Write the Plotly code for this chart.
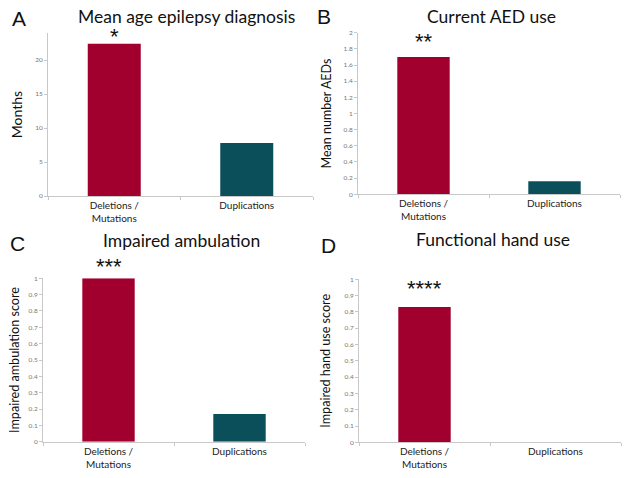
import plotly.graph_objects as go

W, H = 629, 478

categories = ["Deletions /<br>Mutations", "Duplications"]
panel_letters = ["A", "B", "C", "D"]
panel_titles = ["Mean age epilepsy diagnosis", "Current AED use",
                "Impaired ambulation", "Functional hand use"]
y_titles = ["Months", "Mean number AEDs", "Impaired ambulation score",
            "Impaired hand use score"]
age_months = [22.4, 7.8]
aed_count = [1.70, 0.16]
ambulation_score = [1.0, 0.17]
hand_use_score = [0.83, 0.0]
stars = ["*", "**", "***", "****"]
values = [age_months, aed_count, ambulation_score, hand_use_score]
y_ranges = [[0, 24], [0, 2], [0, 1], [0, 1]]
y_dticks = [5, 0.2, 0.1, 0.1]

bar_colors = ["#A1002F", "#0B4F5A"]

# plot area boxes in pixels: left, right, top, bottom
boxes = [(48, 313, 33, 196), (358, 620, 32.7, 194.3),
         (43, 305, 278.3, 441.7), (359, 621, 279.3, 442.3)]
letter_pos = [(19, 18), (324, 17), (17, 243), (328, 245)]
title_pos = [(186, 17), (491, 17), (181, 240), (493, 239)]
star_shift = [7, 15, 12, 19]
ytitle_size = [14, 12.5, 12.6, 12.6]
ytitle_standoff = [9, 9, 6, 11]

fig = go.Figure()
for i in range(4):
    xa = "x" if i == 0 else f"x{i+1}"
    ya = "y" if i == 0 else f"y{i+1}"
    fig.add_trace(go.Bar(
        x=categories, y=values[i], xaxis=xa, yaxis=ya, width=0.4,
        marker=dict(color=bar_colors, line=dict(width=0)),
        showlegend=False, hoverinfo="skip"))
    l, r, t, b = boxes[i]
    xkey = "xaxis" if i == 0 else f"xaxis{i+1}"
    ykey = "yaxis" if i == 0 else f"yaxis{i+1}"
    fig.layout[xkey] = dict(
        domain=[l / W, r / W], anchor=ya, type="category", automargin=False,
        range=[-0.5, 1.5], showline=True, linecolor="#c8c8c8", linewidth=1,
        ticks="outside", tickson="boundaries", ticklen=3, tickcolor="#c8c8c8",
        showgrid=False, zeroline=False,
        tickfont=dict(family="Lato", size=10, color="#222"))
    fig.layout[ykey] = dict(
        domain=[1 - b / H, 1 - t / H], anchor=xa, range=y_ranges[i],
        automargin=False,
        dtick=y_dticks[i], showline=True, linecolor="#c8c8c8", linewidth=1,
        ticks="outside", ticklen=3, tickcolor="#c8c8c8",
        showgrid=False, zeroline=False,
        tickfont=dict(family="Lato", size=6.5, color="#777"),
        title=dict(text=y_titles[i],
                   font=dict(family="Lato", size=ytitle_size[i], color="#111"),
                   standoff=ytitle_standoff[i]))
    # panel letter
    lx, ly = letter_pos[i]
    fig.add_annotation(x=lx / W, y=1 - ly / H, xref="paper", yref="paper",
                       xanchor="center", yanchor="middle",
                       text=panel_letters[i], showarrow=False,
                       font=dict(family="Liberation Sans", size=21, color="#111"))
    tx, ty = title_pos[i]
    fig.add_annotation(x=tx / W, y=1 - ty / H, xref="paper", yref="paper",
                       xanchor="center", yanchor="middle",
                       text=panel_titles[i], showarrow=False,
                       font=dict(family="Lato", size=17.5, color="#111"))
    fig.add_annotation(x=0, y=values[i][0], xref=xa, yref=ya, text=stars[i],
                       showarrow=False, yshift=star_shift[i], yanchor="middle",
                       font=dict(family="Liberation Sans", size=22, color="#111"))

fig.update_layout(width=W, height=H, margin=dict(l=0, r=0, t=0, b=0),
                  plot_bgcolor="white", paper_bgcolor="white", bargap=0.6)
fig.write_html("out.html", config={"displayModeBar": False},
               post_script="document.body.style.margin='0';")
